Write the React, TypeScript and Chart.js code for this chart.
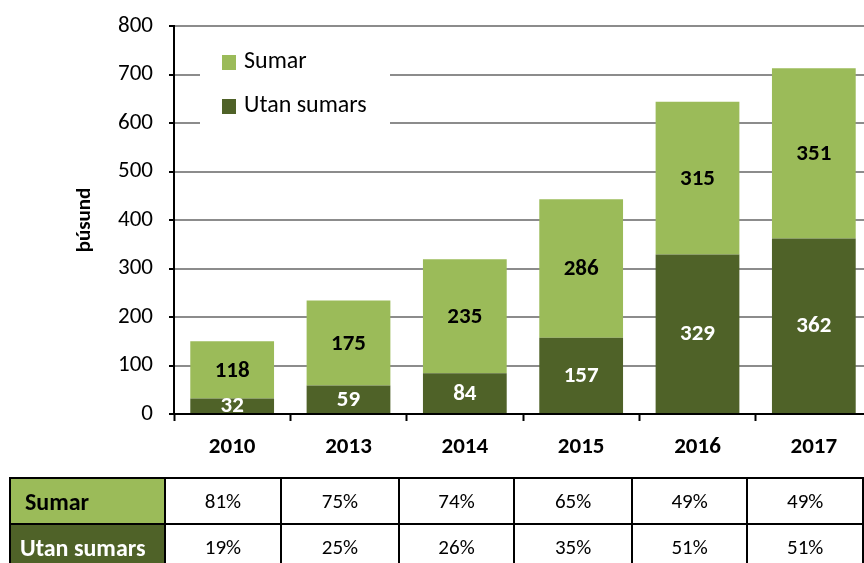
import React, { useEffect, useRef } from 'react';
import { Chart, registerables } from 'chart.js';
Chart.register(...registerables);

const categories = ['2010', '2013', '2014', '2015', '2016', '2017'];
const utanSumars = [32, 59, 84, 157, 329, 362];
const sumar = [118, 175, 235, 286, 315, 351];
const sumarPct = ['81%', '75%', '74%', '65%', '49%', '49%'];
const utanPct = ['19%', '25%', '26%', '35%', '51%', '51%'];
const seriesNames = ['Sumar', 'Utan sumars'];
const yTitle = 'þúsund';
const yMin = 0;
const yMax = 800;
const yStep = 100;

const LIGHT = '#9BBB59';
const DARK = '#4F6228';
const FONT = 'Carlito, Calibri, Lato, "Open Sans", sans-serif';

const extrasPlugin = {
  id: 'extras',
  afterDatasetsDraw(chart: any) {
    const ctx = chart.ctx;
    ctx.save();
    // data labels
    chart.data.datasets.forEach((ds: any, di: number) => {
      const meta = chart.getDatasetMeta(di);
      meta.data.forEach((bar: any, i: number) => {
        const v = ds.data[i];
        const cy = (bar.y + bar.base) / 2;
        ctx.font = `bold 23px ${FONT}`;
        ctx.fillStyle = ds.labelColor;
        ctx.textAlign = 'center';
        ctx.textBaseline = 'middle';
        ctx.fillText(String(v), bar.x, cy + 1);
      });
    });
    // legend box
    const ca = chart.chartArea;
    ctx.fillStyle = '#fff';
    ctx.fillRect(ca.left + 26, ca.top + 8, 190, 106);
    const items = [
      { name: seriesNames[0], color: LIGHT },
      { name: seriesNames[1], color: DARK },
    ];
    items.forEach((it, k) => {
      const y = ca.top + 36 + k * 44;
      ctx.fillStyle = it.color;
      ctx.fillRect(ca.left + 48, y - 7, 14, 15);
      ctx.fillStyle = '#000';
      ctx.font = `24px ${FONT}`;
      ctx.textAlign = 'left';
      ctx.textBaseline = 'middle';
      ctx.fillText(it.name, ca.left + 70, y);
    });
    // y title
    ctx.translate(85, (ca.top + ca.bottom) / 2);
    ctx.rotate(-Math.PI / 2);
    ctx.font = `bold 21px ${FONT}`;
    ctx.fillStyle = '#000';
    ctx.textAlign = 'center';
    ctx.textBaseline = 'middle';
    ctx.fillText(yTitle, 0, 0);
    ctx.restore();
  },
};

function ChartCanvas() {
  const ref = useRef<HTMLCanvasElement>(null);
  useEffect(() => {
    if (!ref.current) return;
    const chart = new Chart(ref.current, {
      type: 'bar',
      data: {
        labels: categories,
        datasets: [
          {
            label: seriesNames[1],
            data: utanSumars,
            backgroundColor: DARK,
            labelColor: '#fff',
            categoryPercentage: 1,
            barPercentage: 0.72,
          } as any,
          {
            label: seriesNames[0],
            data: sumar,
            backgroundColor: LIGHT,
            labelColor: '#000',
            categoryPercentage: 1,
            barPercentage: 0.72,
          } as any,
        ],
      },
      options: {
        animation: false,
        responsive: false,
        maintainAspectRatio: false,
        layout: { padding: { left: 0, right: 0, top: 26, bottom: 0 } },
        plugins: { legend: { display: false }, tooltip: { enabled: false } },
        scales: {
          x: {
            stacked: true,
            grid: {
              display: true,
              drawOnChartArea: false,
              drawTicks: true,
              tickLength: 7,
              tickColor: '#000',
              tickWidth: 2,
              offset: true,
            },
            border: { color: '#000', width: 2 },
            ticks: { color: '#000', font: { family: FONT, size: 23, weight: 'bold' }, padding: 12 },
            afterFit: (s: any) => {
              s.height = 64;
              s.paddingLeft = 0;
              s.paddingRight = 0;
            },
          },
          y: {
            stacked: true,
            min: yMin,
            max: yMax,
            ticks: { stepSize: yStep, color: '#000', font: { family: FONT, size: 23 }, padding: 16 },
            grid: { color: '#8c8c8c', lineWidth: 2, tickColor: '#000', tickLength: 5, tickWidth: 2 },
            border: { color: '#000', width: 2 },
            afterFit: (s: any) => {
              s.width = 174;
              s.paddingTop = 0;
              s.paddingBottom = 0;
            },
          },
        },
      } as any,
      plugins: [extrasPlugin],
    });
    return () => chart.destroy();
  }, []);
  return <canvas ref={ref} width={872} height={478} style={{ position: 'absolute', left: 0, top: 0 }} />;
}

const colEdges = [10, 165, 283, 402, 519, 638, 755, 872];

function DataTable() {
  const rows = [
    { name: seriesNames[0], bg: LIGHT, fg: '#000', values: sumarPct, pad: 14 },
    { name: seriesNames[1], bg: DARK, fg: '#fff', values: utanPct, pad: 9 },
  ];
  return (
    <table
      style={{
        position: 'absolute',
        left: colEdges[0] - 1,
        top: 477,
        borderCollapse: 'collapse',
        tableLayout: 'fixed',
        fontFamily: FONT,
      }}
    >
      <colgroup>
        {colEdges.slice(0, -1).map((e, i) => (
          <col key={i} style={{ width: colEdges[i + 1] - e }} />
        ))}
      </colgroup>
      <tbody>
        {rows.map((r, ri) => (
          <tr key={ri} style={{ height: 46 }}>
            <td
              style={{
                border: '2px solid #000',
                background: r.bg,
                color: r.fg,
                fontWeight: 'bold',
                fontSize: 24,
                textAlign: 'left',
                whiteSpace: 'nowrap',
                padding: `0 0 0 ${r.pad}px`,
              }}
            >
              {r.name}
            </td>
            {r.values.map((v, i) => (
              <td
                key={i}
                style={{ border: '2px solid #000', textAlign: 'center', fontSize: 21, padding: 0, color: '#000' }}
              >
                {v}
              </td>
            ))}
          </tr>
        ))}
      </tbody>
    </table>
  );
}

export default function App() {
  return (
    <div
      style={{
        position: 'absolute',
        left: 0,
        top: 0,
        width: 864,
        height: 563,
        overflow: 'hidden',
        background: '#fff',
      }}
    >
      <ChartCanvas />
      <DataTable />
    </div>
  );
}
